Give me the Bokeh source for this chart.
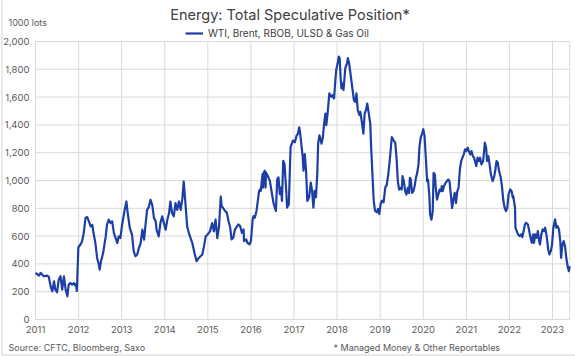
from bokeh.plotting import figure
from bokeh.models import Range1d, FixedTicker, NumeralTickFormatter, Label, Legend, LegendItem, LinearAxis
from bokeh.embed import file_html
from bokeh.resources import INLINE

# ---- data (decimal year, 1000 lots) ----
dates = [
    2011.00, 2011.08, 2011.12, 2011.19, 2011.27, 2011.31, 2011.35, 2011.39, 2011.43, 2011.46,
    2011.50, 2011.54, 2011.58, 2011.62, 2011.66, 2011.70, 2011.74, 2011.77, 2011.81, 2011.85,
    2011.89, 2011.92, 2011.94, 2011.96, 2011.995, 2012.04, 2012.08, 2012.12, 2012.16, 2012.20,
    2012.24, 2012.28, 2012.32, 2012.34, 2012.39, 2012.43, 2012.47, 2012.49, 2012.52, 2012.57,
    2012.63, 2012.66, 2012.70, 2012.74, 2012.78, 2012.82, 2012.86, 2012.90, 2012.93, 2012.97,
    2013.01, 2013.07, 2013.11, 2013.14, 2013.19, 2013.24, 2013.28, 2013.32, 2013.36, 2013.40,
    2013.44, 2013.48, 2013.52, 2013.55, 2013.59, 2013.63, 2013.67, 2013.71, 2013.75, 2013.79,
    2013.81, 2013.86, 2013.90, 2013.94, 2013.98, 2014.02, 2014.06, 2014.10, 2014.13, 2014.17,
    2014.21, 2014.25, 2014.29, 2014.33, 2014.37, 2014.41, 2014.44, 2014.48, 2014.52, 2014.56,
    2014.64, 2014.69, 2014.74, 2014.79, 2014.83, 2014.87, 2014.91, 2014.95, 2014.99, 2015.05,
    2015.10, 2015.14, 2015.18, 2015.22, 2015.26, 2015.30, 2015.32, 2015.40, 2015.44, 2015.48,
    2015.52, 2015.55, 2015.59, 2015.63, 2015.71, 2015.75, 2015.79, 2015.83, 2015.84, 2015.89,
    2015.92, 2015.97, 2016.00, 2016.04, 2016.06, 2016.09, 2016.13, 2016.16, 2016.19, 2016.22,
    2016.23, 2016.27, 2016.28, 2016.30, 2016.32, 2016.34, 2016.35, 2016.39, 2016.44, 2016.49,
    2016.53, 2016.58, 2016.61, 2016.64, 2016.67, 2016.70, 2016.72, 2016.75, 2016.78, 2016.82,
    2016.84, 2016.88, 2016.92, 2016.96, 2016.98, 2017.02, 2017.06, 2017.09, 2017.12, 2017.14,
    2017.17, 2017.20, 2017.22, 2017.25, 2017.28, 2017.31, 2017.35, 2017.39, 2017.42, 2017.45,
    2017.48, 2017.51, 2017.54, 2017.56, 2017.59, 2017.64, 2017.67, 2017.70, 2017.73, 2017.75,
    2017.78, 2017.82, 2017.87, 2017.90, 2017.93, 2017.96, 2017.98, 2018.02, 2018.04, 2018.06,
    2018.08, 2018.10, 2018.13, 2018.15, 2018.19, 2018.23, 2018.25, 2018.28, 2018.33, 2018.36,
    2018.39, 2018.42, 2018.45, 2018.48, 2018.52, 2018.54, 2018.58, 2018.61, 2018.64, 2018.67,
    2018.70, 2018.73, 2018.77, 2018.79, 2018.82, 2018.85, 2018.88, 2018.92, 2018.95, 2018.98,
    2019.01, 2019.04, 2019.08, 2019.12, 2019.15, 2019.19, 2019.23, 2019.27, 2019.31, 2019.35,
    2019.38, 2019.41, 2019.44, 2019.47, 2019.50, 2019.52, 2019.55, 2019.58, 2019.61, 2019.64,
    2019.67, 2019.69, 2019.71, 2019.74, 2019.77, 2019.80, 2019.83, 2019.86, 2019.89, 2019.91,
    2019.94, 2019.98, 2020.00, 2020.03, 2020.06, 2020.09, 2020.11, 2020.14, 2020.16, 2020.19,
    2020.22, 2020.24, 2020.27, 2020.29, 2020.32, 2020.35, 2020.38, 2020.41, 2020.43, 2020.45,
    2020.48, 2020.52, 2020.55, 2020.58, 2020.61, 2020.64, 2020.67, 2020.70, 2020.73, 2020.76,
    2020.79, 2020.82, 2020.85, 2020.88, 2020.91, 2020.94, 2020.97, 2021.00, 2021.03, 2021.06,
    2021.09, 2021.12, 2021.15, 2021.18, 2021.21, 2021.23, 2021.26, 2021.29, 2021.32, 2021.35,
    2021.39, 2021.42, 2021.43, 2021.46, 2021.48, 2021.51, 2021.54, 2021.57, 2021.61, 2021.64,
    2021.67, 2021.70, 2021.73, 2021.76, 2021.80, 2021.83, 2021.86, 2021.89, 2021.92, 2021.95,
    2021.98, 2022.02, 2022.05, 2022.08, 2022.09, 2022.13, 2022.14, 2022.17, 2022.20, 2022.24,
    2022.27, 2022.30, 2022.33, 2022.36, 2022.39, 2022.43, 2022.46, 2022.49, 2022.52, 2022.55,
    2022.57, 2022.60, 2022.63, 2022.66, 2022.69, 2022.71, 2022.74, 2022.77, 2022.80, 2022.83,
    2022.87, 2022.90, 2022.93, 2022.96, 2022.99, 2023.02, 2023.06, 2023.09, 2023.12, 2023.15,
    2023.18, 2023.20, 2023.23, 2023.26, 2023.29, 2023.32, 2023.35, 2023.38, 2023.40,
]
positions = [
    335, 316, 335, 311, 316, 306, 240, 203, 275, 215,
    196, 287, 311, 215, 311, 215, 167, 251, 263, 251,
    262, 245, 255, 205, 520, 538, 562, 622, 730, 737,
    706, 670, 680, 634, 550, 443, 395, 359, 419, 478,
    598, 682, 718, 694, 706, 622, 586, 550, 598, 586,
    682, 789, 849, 766, 658, 610, 490, 455, 466, 514,
    550, 646, 574, 670, 789, 809, 861, 825, 730, 706,
    646, 598, 694, 742, 694, 646, 718, 766, 849, 766,
    742, 837, 789, 849, 789, 873, 993, 837, 670, 622,
    550, 478, 419, 443, 455, 466, 526, 598, 610, 634,
    694, 634, 718, 586, 670, 885, 817, 781, 769, 708,
    660, 576, 588, 648, 684, 672, 624, 648, 564, 576,
    552, 540, 564, 720, 744, 732, 781, 853, 925, 937,
    925, 1046, 949, 1058, 1070, 949, 1058, 1034, 997, 901,
    829, 781, 1010, 1022, 901, 949, 853, 1142, 1118, 925,
    805, 829, 1238, 1275, 1287, 1275, 1323, 1335, 1383, 1347,
    1263, 1178, 1070, 1190, 1070, 853, 877, 985, 925, 805,
    925, 880, 1048, 1265, 1325, 1265, 1313, 1410, 1482, 1398,
    1482, 1627, 1602, 1614, 1590, 1723, 1795, 1855, 1892, 1880,
    1747, 1663, 1699, 1651, 1807, 1843, 1880, 1843, 1723, 1651,
    1578, 1566, 1627, 1506, 1470, 1494, 1410, 1337, 1482, 1506,
    1554, 1494, 1410, 1241, 1048, 855, 783, 771, 795, 759,
    831, 855, 843, 952, 964, 1048, 1169, 1313, 1289, 1272,
    1164, 995, 935, 947, 935, 1031, 995, 923, 899, 947,
    911, 1019, 1007, 911, 923, 959, 1019, 1055, 1116, 1236,
    1308, 1345, 1369, 1320, 1164, 995, 1007, 899, 754, 718,
    778, 1055, 1043, 947, 863, 899, 935, 923, 959, 923,
    959, 983, 995, 1007, 995, 899, 802, 863, 911, 838,
    923, 947, 1079, 1140, 1164, 1188, 1224, 1212, 1236, 1212,
    1188, 1212, 1176, 1164, 1128, 1104, 1164, 1140, 1164, 1116,
    1140, 1236, 1272, 1236, 1140, 1176, 1116, 1044, 996, 1020,
    1068, 1140, 1128, 1068, 1020, 948, 852, 804, 780, 804,
    900, 936, 924, 876, 888, 804, 660, 636, 612, 600,
    612, 593, 636, 684, 696, 684, 636, 588, 552, 612,
    552, 612, 588, 636, 564, 540, 612, 648, 636, 660,
    588, 504, 468, 492, 540, 660, 720, 660, 672, 648,
    564, 444, 540, 564, 528, 444, 384, 348, 384,
]
year_ticks = list(range(2011, 2024))
value_ticks = list(range(0, 2001, 200))
series_label = "WTI, Brent, RBOB, ULSD & Gas Oil"
title_text = "Energy: Total Speculative Position*"
unit_text = "1000 lots"
source_text = "Source: CFTC, Bloomberg, Saxo"
note_text = "* Managed Money & Other Reportables"

# ---- layout (pixels) ----
FONT = "Inter"
TXT = "#595959"
DARK = "#404040"
GRID = "#d9d9d9"
W, H = 575, 356
PX_2011, PX_2023 = 35, 552      # x pixel of 2011 and 2023
PY_0, PY_2000 = 319, 41         # y pixel of 0 and 2000 (from top)

px_per_year = (PX_2023 - PX_2011) / 12.0
px_per_unit = (PY_0 - PY_2000) / 2000.0
x_start = 2011 - PX_2011 / px_per_year
x_end = 2011 + (W - PX_2011) / px_per_year
y_start = -(H - PY_0) / px_per_unit
y_end = 2000 + PY_2000 / px_per_unit

p = figure(width=W, height=H, output_backend="svg", toolbar_location=None, title=None,
           x_range=Range1d(x_start, x_end), y_range=Range1d(y_start, y_end),
           x_axis_type=None, y_axis_type=None,
           min_border_left=0, min_border_right=0, min_border_top=0, min_border_bottom=0)
p.outline_line_color = None
p.background_fill_color = "white"
p.border_fill_color = "white"

# light frame of the whole chart (left and bottom edges only, as in the source image)
edge_x = x_start + 1.5 / px_per_year
edge_y = y_start + 1.5 / px_per_unit
p.segment(x0=[edge_x, edge_x], y0=[edge_y, edge_y], x1=[edge_x, x_end], y1=[y_end, edge_y],
          line_color="#d4d4d4", line_width=1)

x_last = dates[-1]
v_lo, v_hi = value_ticks[0], value_ticks[-1]
# grid lines of the plot area
p.segment(x0=year_ticks + [x_last], y0=v_lo, x1=year_ticks + [x_last], y1=v_hi,
          line_color=GRID, line_width=1)
p.segment(x0=year_ticks[0], y0=value_ticks, x1=x_last, y1=value_ticks,
          line_color=GRID, line_width=1)

r = p.line(dates, positions, line_color="#1c3fa6", line_width=2.2, line_join="round")

yaxis = LinearAxis(fixed_location=year_ticks[0], ticker=FixedTicker(ticks=value_ticks),
                   formatter=NumeralTickFormatter(format="0,0"))
xaxis = LinearAxis(fixed_location=v_lo, ticker=FixedTicker(ticks=year_ticks),
                   formatter=NumeralTickFormatter(format="0"))
for ax in (xaxis, yaxis):
    ax.axis_line_color = None
    ax.major_tick_line_color = None
    ax.minor_tick_line_color = None
    ax.major_tick_in = 0
    ax.major_tick_out = 0
    ax.minor_tick_in = 0
    ax.minor_tick_out = 0
    ax.major_label_text_font = FONT
    ax.major_label_text_font_size = "9.5px"
    ax.major_label_text_color = TXT
xaxis.major_label_standoff = 6
yaxis.major_label_standoff = 6
p.add_layout(yaxis, "left")
p.add_layout(xaxis, "below")

legend = Legend(items=[LegendItem(label=series_label, renderers=[r])],
                location=(185, H - 39), orientation="horizontal",
                border_line_color=None, background_fill_alpha=0,
                padding=0, margin=0, spacing=0,
                glyph_width=18, glyph_height=12, label_height=12, label_standoff=5,
                label_text_font=FONT, label_text_font_size="10px", label_text_color=DARK)
p.add_layout(legend)


def add_text(x, y_from_top, text, size, color, align="left"):
    p.add_layout(Label(x=x, y=H - y_from_top, x_units="screen", y_units="screen", text=text,
                       text_font=FONT, text_font_size=size, text_color=color,
                       text_align=align, text_baseline="middle"))


add_text(289.5, 14, title_text, "14.5px", DARK, "center")
add_text(8, 22, unit_text, "9px", TXT)
add_text(8, 347, source_text, "9px", TXT)
add_text(333, 347, note_text, "9px", TXT)

open("out.html", "w").write(file_html(p, INLINE))
